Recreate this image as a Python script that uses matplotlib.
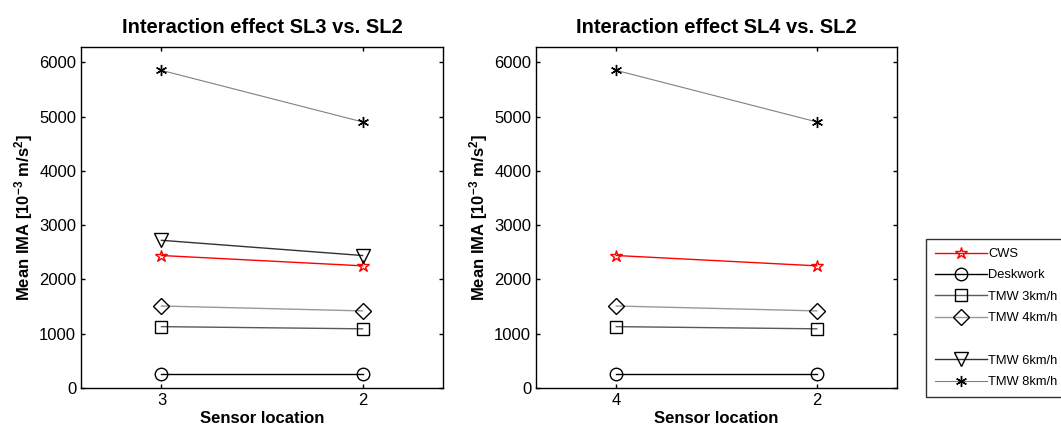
import numpy as np
import matplotlib.pyplot as plt
from matplotlib.lines import Line2D

plt.rcParams['font.family'] = ['Liberation Sans', 'DejaVu Sans']
plt.rcParams['mathtext.default'] = 'regular'

# datos
labels = ['CWS', 'Deskwork', 'TMW 3km/h', 'TMW 4km/h', 'TMW 6km/h', 'TMW 8km/h']
sl3_ticks = ['3', '2']
sl4_ticks = ['4', '2']

cws_sl3 = [2440, 2250]
desk_sl3 = [260, 260]
tmw3_sl3 = [1130, 1090]
tmw4_sl3 = [1510, 1420]
tmw6_sl3 = [2720, 2440]
tmw8_sl3 = [5850, 4900]

cws_sl4 = [2440, 2250]
desk_sl4 = [260, 260]
tmw3_sl4 = [1130, 1090]
tmw4_sl4 = [1510, 1420]
tmw6_sl4 = [np.nan, np.nan]
tmw8_sl4 = [5850, 4900]

estilos = [
    dict(color='red', marker='*', ms=9, mec='red', mfc='none', lw=1.0),
    dict(color='black', marker='o', ms=9, mec='black', mfc='none', lw=1.0),
    dict(color='0.35', marker='s', ms=9, mec='black', mfc='none', lw=1.0),
    dict(color='0.6', marker='D', ms=8, mec='black', mfc='none', lw=1.0),
    dict(color='0.2', marker='v', ms=10, mec='black', mfc='none', lw=1.0),
    dict(color='0.5', marker=(6, 2, 0), ms=8, mec='black', mfc='none', lw=0.8, mew=1.0),
]

fig = plt.figure(figsize=(10.61, 4.32), dpi=100)
ax1 = fig.add_axes([81 / 1061, 44 / 432, 362 / 1061, 341 / 432])
ax2 = fig.add_axes([536 / 1061, 44 / 432, 361 / 1061, 341 / 432])

x = np.array([1, 2])
series_sl3 = [cws_sl3, desk_sl3, tmw3_sl3, tmw4_sl3, tmw6_sl3, tmw8_sl3]
series_sl4 = [cws_sl4, desk_sl4, tmw3_sl4, tmw4_sl4, tmw6_sl4, tmw8_sl4]

for ax, series, ticks, titulo in [(ax1, series_sl3, sl3_ticks, 'Interaction effect SL3 vs. SL2'),
                                   (ax2, series_sl4, sl4_ticks, 'Interaction effect SL4 vs. SL2')]:
    for y, lab, st in zip(series, labels, estilos):
        ax.plot(x, y, label=lab, **st)
    ax.set_xlim(0.6, 2.4)
    ax.set_ylim(0, 6280)
    ax.set_xticks(x)
    ax.set_xticklabels(ticks)
    ax.set_yticks(np.arange(0, 6001, 1000))
    ax.tick_params(direction='in', top=True, right=True, labelsize=12, length=3, width=1)
    ax.set_title(titulo, fontsize=14.5, fontweight='bold', pad=10)
    ax.set_xlabel('Sensor location', fontsize=12, fontweight='bold', labelpad=2)
    ax.set_ylabel('Mean IMA [10$^{-3}$ m/s$^{2}$]', fontsize=12, fontweight='bold', labelpad=3)
    for sp in ax.spines.values():
        sp.set_linewidth(1.0)

# leyenda con hueco entre TMW 4 y TMW 6
h, l = ax1.get_legend_handles_labels()
hueco = Line2D([], [], linestyle='none', marker='none')
h = h[:4] + [hueco] + h[4:]
l = l[:4] + [' '] + l[4:]
leg = fig.legend(h, l, loc='upper left', bbox_to_anchor=(926 / 1061, 1 - 239 / 432),
                 fontsize=9.3, frameon=True, fancybox=False, edgecolor='black',
                 handlelength=4.0, handletextpad=0.1, labelspacing=0.72,
                 borderpad=0.7, borderaxespad=0)
leg.get_frame().set_linewidth(1.0)

plt.savefig('out.png', dpi=100)
plt.close()
